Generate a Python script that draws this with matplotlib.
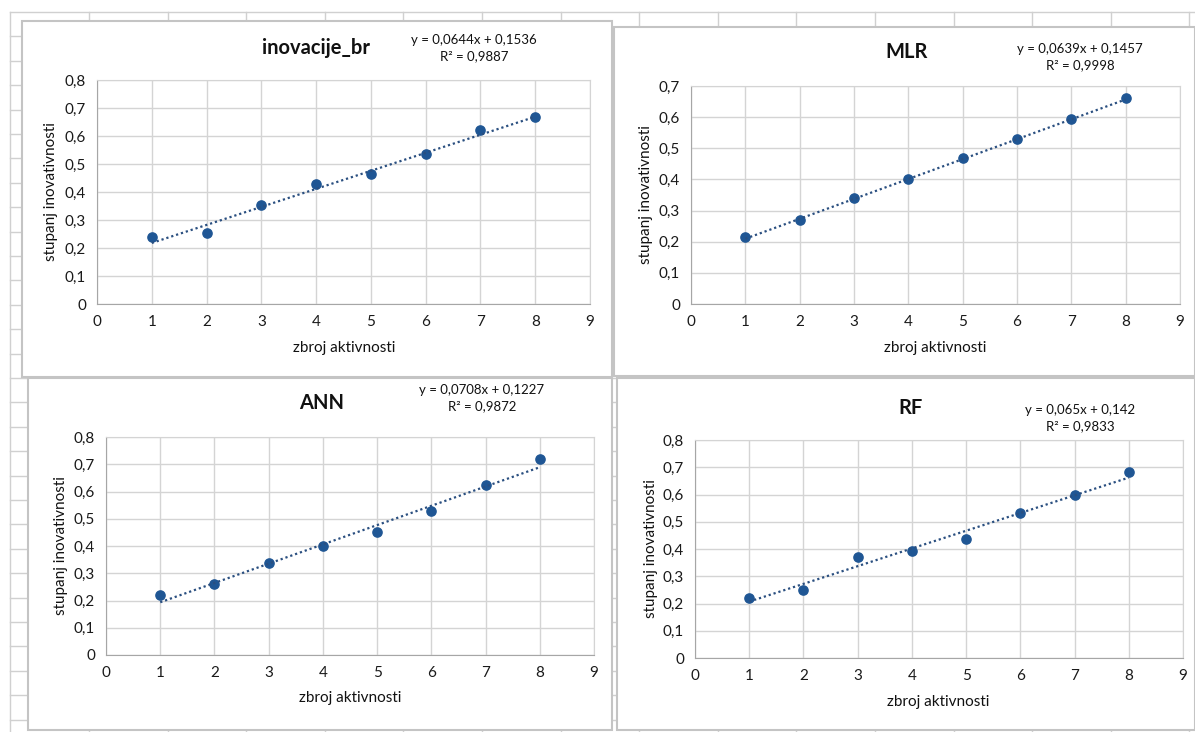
import matplotlib
matplotlib.use('Agg')
import matplotlib.pyplot as plt
from matplotlib.patches import Rectangle
from matplotlib.ticker import FuncFormatter, MultipleLocator

plt.rcParams['font.family'] = ['Lato', 'DejaVu Sans']

W, H = 1195, 732

# data
x_vals = [1, 2, 3, 4, 5, 6, 7, 8]
titles = ['inovacije_br', 'MLR', 'ANN', 'RF']
y_inovacije = [0.240, 0.255, 0.355, 0.430, 0.463, 0.535, 0.620, 0.667]
y_mlr = [0.216, 0.271, 0.339, 0.401, 0.468, 0.530, 0.595, 0.662]
y_ann = [0.221, 0.259, 0.337, 0.399, 0.453, 0.530, 0.624, 0.720]
y_rf = [0.221, 0.251, 0.371, 0.391, 0.437, 0.531, 0.598, 0.682]
slopes = [0.0644, 0.0639, 0.0708, 0.065]
intercepts = [0.1536, 0.1457, 0.1227, 0.142]
eq_texts = ['y = 0,0644x + 0,1536\nR² = 0,9887',
            'y = 0,0639x + 0,1457\nR² = 0,9998',
            'y = 0,0708x + 0,1227\nR² = 0,9872',
            'y = 0,065x + 0,142\nR² = 0,9833']
y_max = [0.8, 0.7, 0.8, 0.8]
series = [y_inovacije, y_mlr, y_ann, y_rf]

# layout in pixels: panel frame, plot area (x0, x1, ytop, ybottom), text spots
panels = [(22, 21, 612, 377), (614, 27, 1195, 376),
          (28, 378, 612, 730), (617, 378, 1195, 730)]
plot_boxes = [(97, 590, 80, 304), (691, 1180, 86, 304),
              (106, 594, 437, 655), (695, 1183, 440, 658)]
title_pos = [(316, 48), (907, 52), (322, 403), (911, 408)]
eq_pos = [(474, 48), (1080, 57), (482, 398), (1080, 418)]
xlabel_pos = [(344, 348), (935, 348), (350, 698), (938, 702)]
ylabel_x = [51, 646, 61, 651]

fig = plt.figure(figsize=(W / 100, H / 100), dpi=100)
bg = fig.add_axes([0, 0, 1, 1])
bg.set_xlim(0, W)
bg.set_ylim(H, 0)
bg.axis('off')

# spreadsheet grid behind the charts
gx = 10.4
while gx < W:
    bg.plot([gx, gx], [12, H], color='#d0d0d0', lw=1, zorder=0)
    gx += 78.6
gy = 12.0
while gy < H:
    bg.plot([10, W], [gy, gy], color='#d0d0d0', lw=1, zorder=0)
    gy += 24.4

for (x0, y0, x1, y1) in panels:
    bg.add_patch(Rectangle((x0, y0), x1 - x0, y1 - y0, facecolor='white',
                           edgecolor='#c4c4c4', lw=1.5, zorder=1))


def comma_fmt(v, pos):
    if abs(v) < 1e-9:
        return '0'
    return ('%.1f' % v).replace('.', ',')


for i in range(4):
    x0, x1, yt, yb = plot_boxes[i]
    ax = fig.add_axes([x0 / W, 1 - yb / H, (x1 - x0) / W, (yb - yt) / H])
    ax.set_xlim(0, 9)
    ax.set_ylim(0, y_max[i])
    ax.xaxis.set_major_locator(MultipleLocator(1))
    ax.yaxis.set_major_locator(MultipleLocator(0.1))
    ax.yaxis.set_major_formatter(FuncFormatter(comma_fmt))
    ax.grid(True, color='#d4d4d4', lw=1)
    ax.set_axisbelow(True)
    for s in ax.spines.values():
        s.set_color('#d4d4d4')
    ax.spines['left'].set_color('#a6a6a6')
    ax.spines['bottom'].set_color('#a6a6a6')
    ax.tick_params(length=0, labelsize=11, colors='#1a1a1a', pad=8)

    ax.scatter(x_vals, series[i], s=44, color='#1f5694', zorder=3)
    tx = [x_vals[0], x_vals[-1]]
    ty = [slopes[i] * t + intercepts[i] for t in tx]
    ax.plot(tx, ty, linestyle=(0, (1, 1.3)), color='#2a4f80', lw=1.6,
            zorder=4)

    tx_, ty_ = title_pos[i]
    bg.text(tx_, ty_, titles[i], ha='center', va='center', fontsize=14.5,
            fontweight='bold', color='#111111')
    ex, ey = eq_pos[i]
    bg.text(ex, ey, eq_texts[i], ha='center', va='center', fontsize=9.5,
            linespacing=1.35, color='#111111')
    lx, ly = xlabel_pos[i]
    bg.text(lx, ly, 'zbroj aktivnosti', ha='center', va='center',
            fontsize=11, color='#111111')
    bg.text(ylabel_x[i], (yt + yb) / 2, 'stupanj inovativnosti', ha='center',
            va='center', rotation=90, fontsize=11, color='#111111')

fig.savefig('out.png', dpi=100)
